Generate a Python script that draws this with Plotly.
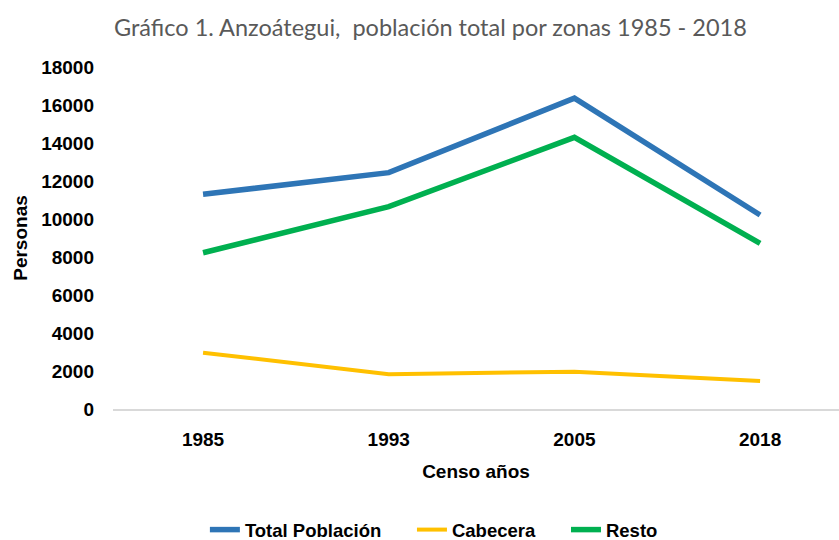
import plotly.graph_objects as go

years = ["1985", "1993", "2005", "2018"]
total = [11300, 12440, 16360, 10210]
cabecera = [2965, 1826, 1965, 1474]
resto = [8226, 10650, 14300, 8720]
names = ["Total Población", "Cabecera", "Resto"]

lab_font = dict(family="Liberation Sans, Arial", size=19, color="#000000", weight=700)
leg_font = dict(family="Liberation Sans, Arial", size=18.5, color="#000000", weight=700)
pad = "\u00a0" * 5

fig = go.Figure()
fig.add_trace(go.Scatter(x=years, y=total, mode="lines", name=names[0] + pad,
                         line=dict(color="#2E75B6", width=5.5)))
fig.add_trace(go.Scatter(x=years, y=cabecera, mode="lines", name=names[1] + pad,
                         line=dict(color="#FFC000", width=4)))
fig.add_trace(go.Scatter(x=years, y=resto, mode="lines", name=names[2],
                         line=dict(color="#00B050", width=5.5)))

fig.update_layout(
    width=839, height=540,
    margin=dict(l=113, r=0, t=67, b=131, autoexpand=False),
    paper_bgcolor="white", plot_bgcolor="white",
    title=dict(text="Gráfico 1. Anzoátegui,  población total por zonas 1985 - 2018",
               x=0.513, xanchor="center", y=0.948, yanchor="middle",
               font=dict(family="Lato, Open Sans, sans-serif", size=23.5, color="#595959")),
    showlegend=True,
    legend=dict(orientation="h", x=0.442, xanchor="center", y=-0.354, yanchor="middle",
                font=leg_font, itemwidth=30, traceorder="normal"),
    xaxis=dict(type="category", range=[-0.485, 3.425], showgrid=False, showline=True,
               linecolor="#D9D9D9", linewidth=1.5, ticks="", tickfont=lab_font,
               ticklabelstandoff=12, automargin=False,
               title=dict(text="Censo años", font=lab_font, standoff=16)),
    yaxis=dict(range=[0, 18000], dtick=2000, showgrid=False, showline=False, zeroline=False,
               ticks="", tickfont=lab_font, tickformat="d", ticklabelstandoff=18,
               automargin=False,
               title=dict(text="Personas", font=lab_font, standoff=8)),
)

fig.write_html("out.html", config={"responsive": False, "displayModeBar": False},
               post_script="document.body.style.margin='0';document.body.style.overflow='hidden';")
